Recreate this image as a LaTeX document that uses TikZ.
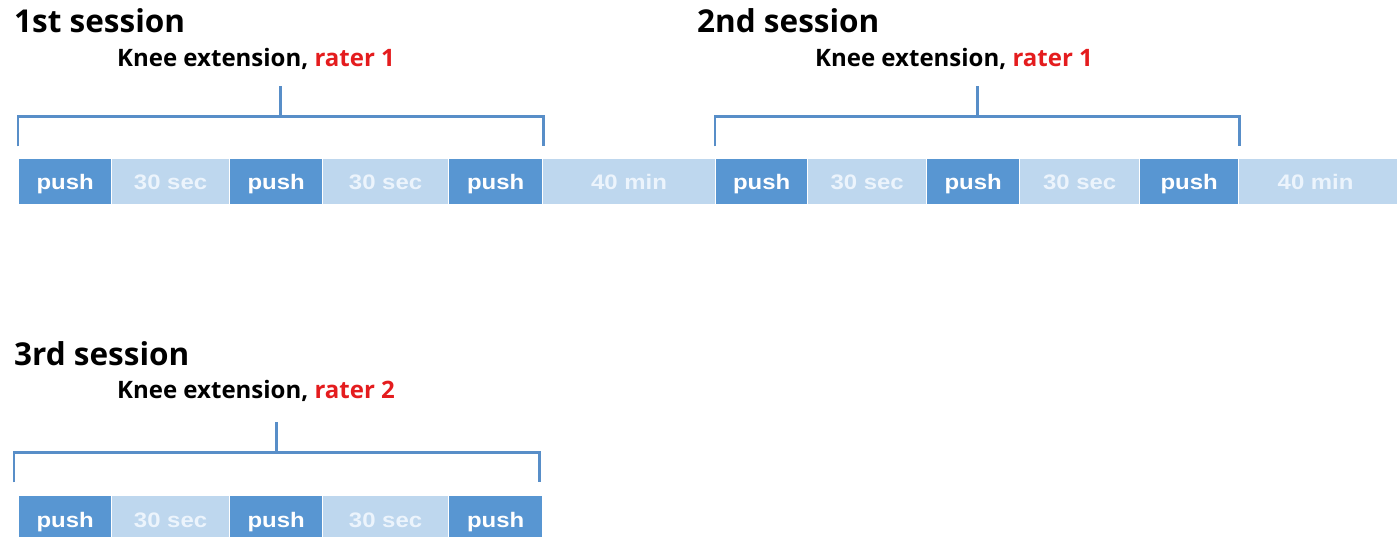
\documentclass[tikz,border=0pt]{standalone}
\usepackage{fontspec}
\setmainfont{Open Sans}
\newfontfamily\headfont{Open Sans}
\newfontfamily\boxfont[FakeStretch=1.14]{Liberation Sans}
\usetikzlibrary{calc}
\definecolor{pushblue}{RGB}{88,150,210}
\definecolor{restblue}{RGB}{190,215,238}
\definecolor{resttext}{RGB}{236,244,252}
\definecolor{brackblue}{RGB}{88,142,200}
\definecolor{raterred}{RGB}{228,28,30}
\tikzset{
  seg/.style={draw=white, line width=1.2pt, inner sep=0pt, minimum height=47pt,
    text height=18pt, text depth=1pt,
    anchor=west, font=\boxfont\bfseries\fontsize{21}{21}\selectfont},
  pushbox/.style={seg, fill=pushblue, text=white},
  restbox/.style={seg, fill=restblue, text=resttext},
  title/.style={anchor=base west, inner sep=0pt, font=\headfont\bfseries\fontsize{31.5}{31.5}\selectfont},
  task/.style={anchor=base west, inner sep=0pt, font=\headfont\bfseries\fontsize{24}{24}\selectfont},
  brk/.style={draw=brackblue, line width=2.8pt, line join=miter}
}
\begin{document}
\begin{tikzpicture}[x=1pt, y=-1pt]
\useasboundingbox (0,0) rectangle (1397,537);
\clip (0,0) rectangle (1397,537);

% session 1 and 2 timeline
\node[pushbox, minimum width=93pt]  (a1) at (18,181.5)   {push};
\node[restbox, minimum width=118pt] (a2) at (111,181.5)  {30 sec};
\node[pushbox, minimum width=93pt]  (a3) at (229,181.5)  {push};
\node[restbox, minimum width=126pt] (a4) at (322,181.5)  {30 sec};
\node[pushbox, minimum width=94pt]  (a5) at (448,181.5)  {push};
\node[restbox, minimum width=173pt] (a6) at (542,181.5)  {40 min};
\node[pushbox, minimum width=92pt]  (b1) at (715,181.5)  {push};
\node[restbox, minimum width=119pt] (b2) at (807,181.5)  {30 sec};
\node[pushbox, minimum width=93pt]  (b3) at (926,181.5)  {push};
\node[restbox, minimum width=120pt] (b4) at (1019,181.5) {30 sec};
\node[pushbox, minimum width=99pt]  (b5) at (1139,181.5) {push};
\node[restbox, minimum width=170pt] (b6) at (1238,181.5) {\hspace*{-8pt}40 min\hspace*{8pt}};

% session 3 timeline
\node[pushbox, minimum width=93pt]  (c1) at (18,518.5)  {push};
\node[restbox, minimum width=118pt] (c2) at (111,518.5) {30 sec};
\node[pushbox, minimum width=93pt]  (c3) at (229,518.5) {push};
\node[restbox, minimum width=126pt] (c4) at (322,518.5) {30 sec};
\node[pushbox, minimum width=94pt]  (c5) at (448,518.5) {push};

% headings
\node[title] (s1) at (14,33)  {1st session};
\node[title] (s2) at (697,33) {2nd session};
\node[title] (s3) at (14,365) {3rd session};
\node[task] (k1) at (117,67)  {Knee extension, \textcolor{raterred}{rater 1}};
\node[task] (k2) at (815,67)  {Knee extension, \textcolor{raterred}{rater 1}};
\node[task] (k3) at (117,398) {Knee extension, \textcolor{raterred}{rater 2}};

% brackets grouping the three pushes
\draw[brk] ([yshift=11pt]a1.north west) -- ([yshift=41pt]a1.north west)
  coordinate (l1) -- ([yshift=41pt]a5.north east) coordinate (r1) -- ([yshift=11pt]a5.north east);
\coordinate (m1) at ($(l1)!0.5!(r1)$);
\draw[brk] (m1) -- ++(0,-30);

\draw[brk] ([yshift=11pt]b1.north west) -- ([yshift=41pt]b1.north west)
  coordinate (l2) -- ([yshift=41pt]b5.north east) coordinate (r2) -- ([yshift=11pt]b5.north east);
\coordinate (m2) at ($(l2)!0.5!(r2)$);
\draw[brk] (m2) -- ++(0,-30);

\draw[brk] ([xshift=-4pt,yshift=12pt]c1.north west) -- ([xshift=-4pt,yshift=42pt]c1.north west)
  coordinate (l3) -- ([xshift=-4pt,yshift=42pt]c5.north east) coordinate (r3) -- ([xshift=-4pt,yshift=12pt]c5.north east);
\coordinate (m3) at ($(l3)!0.5!(r3)$);
\draw[brk] (m3) -- ++(0,-30);
\end{tikzpicture}
\end{document}
